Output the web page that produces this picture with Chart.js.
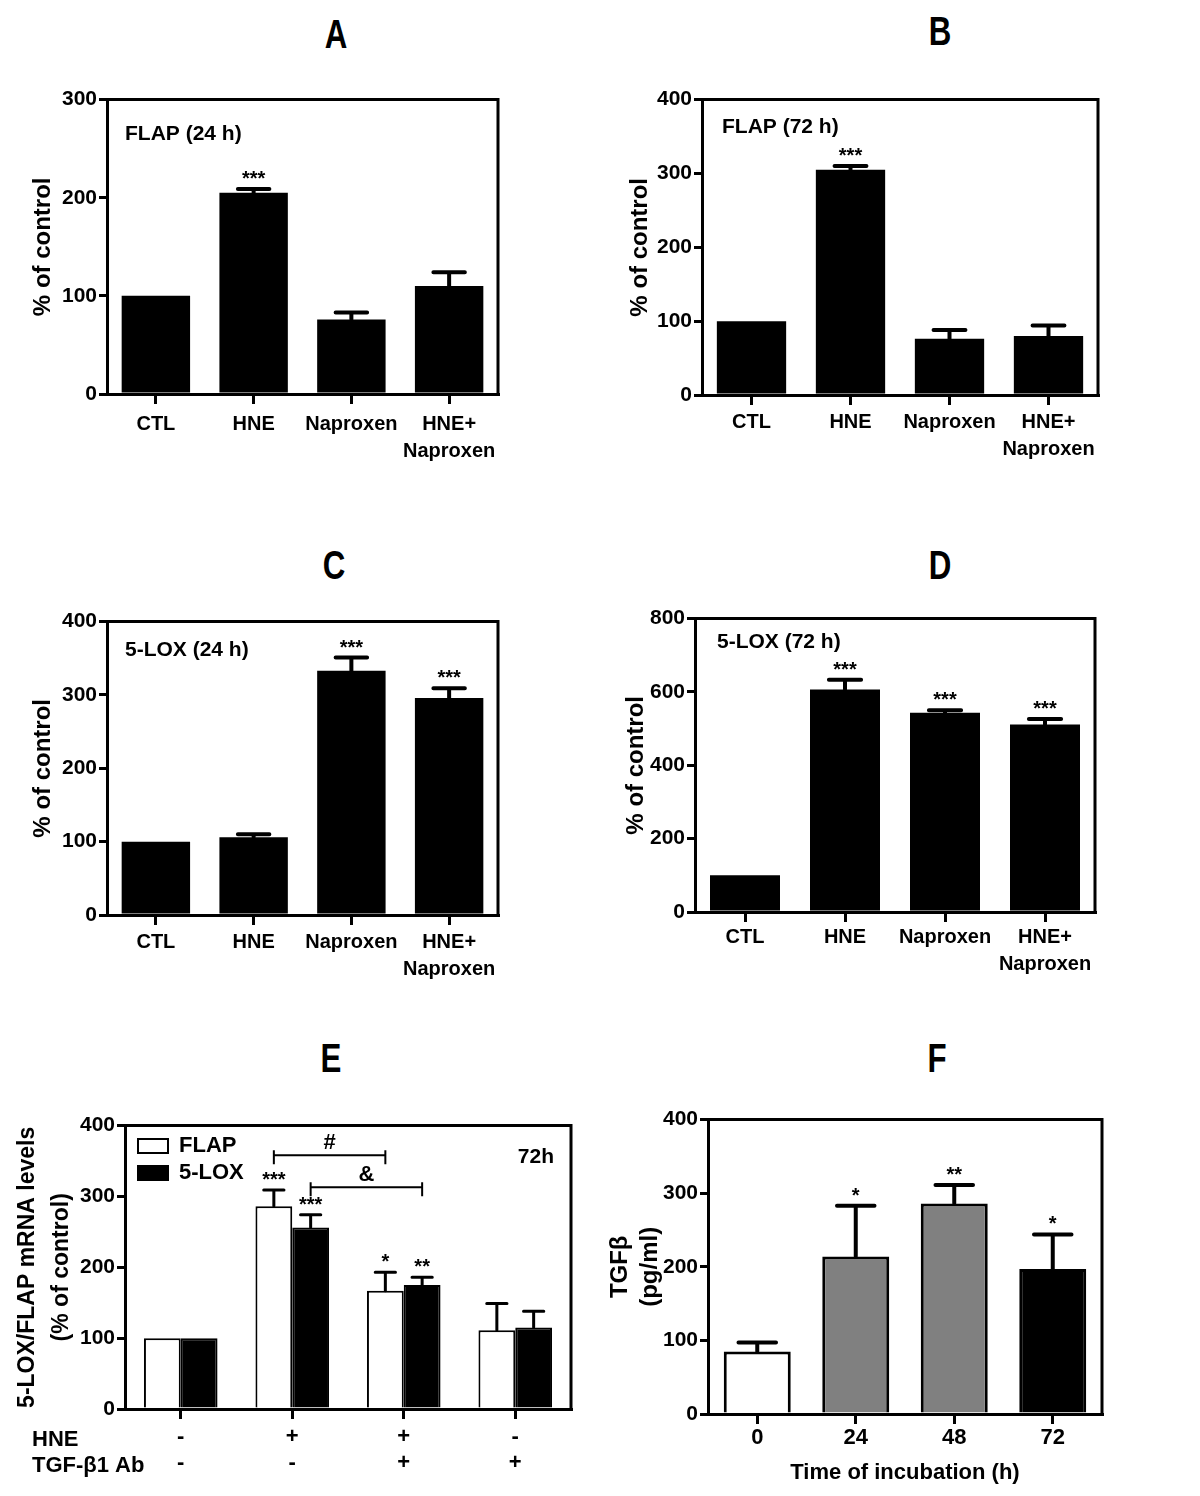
<!DOCTYPE html>
<html>
<head>
<meta charset="utf-8">
<script src="https://cdn.jsdelivr.net/npm/chart.js@4.4.1/dist/chart.umd.min.js"></script>
<style>
body{margin:0;background:#fff;width:1200px;height:1496px;position:relative;overflow:hidden;font-family:"Liberation Sans",Arial,sans-serif}
canvas{position:absolute}
.lab{position:absolute;font-weight:bold;font-size:34px;line-height:1;transform:translate(-50%,-50%) scale(0.92,1.18)}
</style>
</head>
<body>
<div class="lab" style="left:336px;top:34px">A</div>
<div class="lab" style="left:940px;top:31px">B</div>
<div class="lab" style="left:334px;top:565px">C</div>
<div class="lab" style="left:940px;top:565px">D</div>
<div class="lab" style="left:331px;top:1058px">E</div>
<div class="lab" style="left:937px;top:1058px">F</div>
<canvas id="cA"></canvas>
<canvas id="cB"></canvas>
<canvas id="cC"></canvas>
<canvas id="cD"></canvas>
<canvas id="cE"></canvas>
<canvas id="cF"></canvas>
<script>
// treatment groups used in panels A-D
const groups=['CTL','HNE','Naproxen',['HNE+','Naproxen']];

const flap24=[100,205,76,110];
const flap24Err=[0,4,7,14];
const flap24Sig=['','***','',''];

const flap72=[100,305,76,80];
const flap72Err=[0,5,12,14];
const flap72Sig=['','***','',''];

const lox24=[100,106,333,296];
const lox24Err=[0,4,18,13];
const lox24Sig=['','','***','***'];

const lox72=[100,607,543,511];
const lox72Err=[0,26,7,15];
const lox72Sig=['','***','***','***'];

// panel E: HNE / TGF-b1 Ab combinations
const eLabels=[['-','-'],['+','-'],['+','+'],['-','+']];
const eFlap=[100,286,167,111];
const eFlapErr=[0,23,26,38];
const eFlapSig=['','***','*',''];
const eLox=[100,256,175,115];
const eLoxErr=[0,18,11,23];
const eLoxSig=['','***','**',''];

// panel F: TGFb over time
const hours=['0','24','48','72'];
const tgf=[85,214,286,197];
const tgfErr=[12,69,25,47];
const tgfSig=['','*','**','*'];
const tgfColors=['#ffffff','#808080','#808080','#000000'];

const FONT='"Liberation Sans", Arial, sans-serif';
Chart.defaults.font.family=FONT;
Chart.defaults.color='#000';

// frame, error bars, stars, notes, brackets
const extras={
  id:'extras',
  afterLayout(chart,args,o){
    // legend sits inside the plot, nudge it off the frame
    if(o.legendShift&&chart.legend){
      chart.legend.left+=o.legendShift[0];
      chart.legend.top+=o.legendShift[1];
    }
  },
  afterDatasetsDraw(chart,args,o){
    const ctx=chart.ctx,a=chart.chartArea,ys=chart.scales.y;
    ctx.save();
    ctx.strokeStyle='#000';ctx.fillStyle='#000';
    ctx.lineWidth=3;ctx.lineCap='square';
    ctx.beginPath();ctx.moveTo(a.left,a.top);ctx.lineTo(a.right,a.top);ctx.lineTo(a.right,a.bottom);ctx.stroke();
    ctx.textAlign='center';ctx.textBaseline='alphabetic';
    chart.data.datasets.forEach((ds,i)=>{
      const meta=chart.getDatasetMeta(i);
      const errs=(o.err||[])[i]||[],sig=(o.sig||[])[i]||[];
      meta.data.forEach((bar,j)=>{
        const top=ys.getPixelForValue(ds.data[j]+(errs[j]||0));
        if(errs[j]){
          const cw=bar.width*o.cap;
          ctx.lineWidth=o.errW;ctx.lineCap='round';
          ctx.beginPath();
          ctx.moveTo(bar.x,bar.y);ctx.lineTo(bar.x,top);
          ctx.moveTo(bar.x-cw/2,top);ctx.lineTo(bar.x+cw/2,top);
          ctx.stroke();
        }
        if(sig[j]){
          ctx.font='bold 20px '+FONT;
          ctx.fillText(sig[j],bar.x,top-4);
        }
      });
    });
    (o.brackets||[]).forEach(b=>{
      const x1=chart.getDatasetMeta(b.from[0]).data[b.from[1]].x;
      const x2=chart.getDatasetMeta(b.to[0]).data[b.to[1]].x;
      const yy=ys.getPixelForValue(b.value);
      ctx.lineWidth=2;ctx.lineCap='butt';
      ctx.beginPath();
      ctx.moveTo(x1,yy);ctx.lineTo(x2,yy);
      ctx.moveTo(x1,yy-5);ctx.lineTo(x1,yy+9);
      ctx.moveTo(x2,yy-5);ctx.lineTo(x2,yy+9);
      ctx.stroke();
      ctx.font='bold 22px '+FONT;ctx.textAlign='center';ctx.textBaseline='middle';
      ctx.fillText(b.label,(x1+x2)/2,yy-12);
    });
    (o.notes||[]).forEach(n=>{
      ctx.font='bold '+(n.size||21)+'px '+FONT;
      ctx.textAlign=n.align||'left';ctx.textBaseline='middle';
      const x=(n.align==='right'?a.right:a.left)+n.x;
      ctx.fillText(n.text,x,a.top+n.y);
    });
    ctx.restore();
  }
};
Chart.register(extras);

function panel(id,box,yw,xh,opt){
  const pt=12,pr=12;
  const cv=document.getElementById(id);
  const w=yw+(box.r-box.l)+pr,h=pt+(box.b-box.t)+xh;
  cv.width=w;cv.height=h;
  cv.style.left=(box.l-yw)+'px';cv.style.top=(box.t-pt)+'px';
  cv.style.width=w+'px';cv.style.height=h+'px';
  return new Chart(cv,{
    type:'bar',
    data:{labels:opt.labels,datasets:opt.datasets},
    options:{
      responsive:false,animation:false,devicePixelRatio:1,
      layout:{autoPadding:false,padding:{left:0,top:pt,right:pr,bottom:0}},
      plugins:{
        legend:opt.legend||{display:false},
        tooltip:{enabled:false},
        extras:opt.extras
      },
      scales:{
        x:{
          offset:true,
          grid:{offset:false,drawOnChartArea:false,tickLength:10,lineWidth:3,color:'#000'},
          border:{display:true,width:3,color:'#000'},
          ticks:{padding:opt.xPad,maxRotation:0,autoSkip:false,font:opt.xFont},
          title:opt.xTitle||{display:false},
          afterFit:s=>{s.height=xh}
        },
        y:{
          min:0,max:opt.yMax,
          grid:{drawOnChartArea:false,tickLength:8,lineWidth:3,color:'#000'},
          border:{display:true,width:3,color:'#000'},
          ticks:{stepSize:opt.step,padding:2,font:{size:21,weight:'bold'}},
          title:opt.yTitle,
          afterFit:s=>{s.width=yw}
        }
      }
    }
  });
}

function blackSet(data){
  return [{data:data,backgroundColor:'#000',borderWidth:0,categoryPercentage:0.7,barPercentage:1}];
}
const tickFontAD={size:20,weight:'bold',lineHeight:1.35};
function pctTitle(pad){
  return {display:true,text:'% of control',font:{size:24,weight:'bold',lineHeight:1.2},padding:{top:pad,bottom:0}};
}

panel('cA',{l:107,t:97,r:498,b:394},100,80,{
  labels:groups,datasets:blackSet(flap24),yMax:300,step:100,xPad:7,xFont:tickFontAD,yTitle:pctTitle(22),
  extras:{err:[flap24Err],sig:[flap24Sig],cap:0.46,errW:4,notes:[{text:'FLAP (24 h)',x:18,y:35}]}
});
panel('cB',{l:702,t:97,r:1098,b:395},100,80,{
  labels:groups,datasets:blackSet(flap72),yMax:400,step:100,xPad:4,xFont:tickFontAD,yTitle:pctTitle(24),
  extras:{err:[flap72Err],sig:[flap72Sig],cap:0.46,errW:4,notes:[{text:'FLAP (72 h)',x:20,y:28}]}
});
panel('cC',{l:107,t:619,r:498,b:915},100,80,{
  labels:groups,datasets:blackSet(lox24),yMax:400,step:100,xPad:4,xFont:tickFontAD,yTitle:pctTitle(22),
  extras:{err:[lox24Err],sig:[lox24Sig],cap:0.46,errW:4,notes:[{text:'5-LOX (24 h)',x:18,y:29}]}
});
panel('cD',{l:695,t:616,r:1095,b:912},100,80,{
  labels:groups,datasets:blackSet(lox72),yMax:800,step:200,xPad:2,xFont:tickFontAD,yTitle:pctTitle(27),
  extras:{err:[lox72Err],sig:[lox72Sig],cap:0.46,errW:4,notes:[{text:'5-LOX (72 h)',x:22,y:24}]}
});

panel('cE',{l:125,t:1123,r:571,b:1409},120,80,{
  labels:eLabels,
  datasets:[
    {label:'FLAP',data:eFlap,backgroundColor:'#fff',borderColor:'#000',borderWidth:2,categoryPercentage:0.66,barPercentage:1},
    {label:'5-LOX',data:eLox,backgroundColor:'#000',borderColor:'#000',borderWidth:2,categoryPercentage:0.66,barPercentage:1}
  ],
  yMax:400,step:100,xPad:5,xFont:{size:22,weight:'bold',lineHeight:1.18},
  yTitle:{display:true,text:['5-LOX/FLAP mRNA levels','(% of control)'],font:{size:23,weight:'bold',lineHeight:1.48},padding:{top:6,bottom:0}},
  legend:{display:true,position:'chartArea',align:'start',
    labels:{boxWidth:30,boxHeight:14,padding:5,color:'#000',font:{size:22,weight:'bold'}}},
  extras:{err:[eFlapErr,eLoxErr],sig:[eFlapSig,eLoxSig],cap:0.55,errW:3,legendShift:[8,19],
    brackets:[{from:[0,1],to:[0,2],value:358,label:'#'},{from:[1,1],to:[1,2],value:313,label:'&'}],
    notes:[{text:'72h',x:-17,y:32,align:'right'},
           {text:'HNE',x:-93,y:314,size:22},
           {text:'TGF-\u03b21 Ab',x:-93,y:340,size:22}]}
});

panel('cF',{l:708,t:1117,r:1102,b:1414},104,76,{
  labels:hours,
  datasets:[{data:tgf,backgroundColor:tgfColors,borderColor:'#000',borderWidth:3,categoryPercentage:0.68,barPercentage:1}],
  yMax:400,step:100,xPad:1,xFont:{size:22,weight:'bold',lineHeight:1.2},
  xTitle:{display:true,text:'Time of incubation (h)',font:{size:22,weight:'bold',lineHeight:1.2},padding:{top:0,bottom:4}},
  yTitle:{display:true,text:['TGF\u03b2','(pg/ml)'],font:{size:24,weight:'bold',lineHeight:1.25},padding:{top:1,bottom:0}},
  extras:{err:[tgfErr],sig:[tgfSig],cap:0.56,errW:4}
});
</script>
</body>
</html>
